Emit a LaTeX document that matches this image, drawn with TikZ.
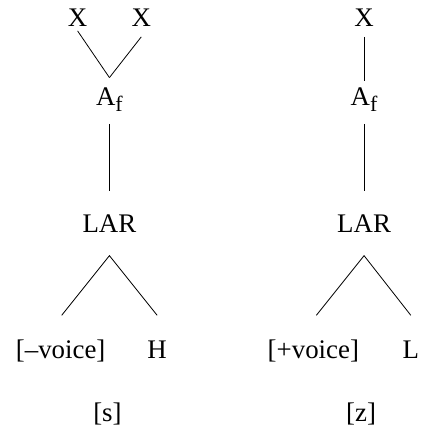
\documentclass[tikz,border=0pt]{standalone}
\usepackage{fontspec}
\setmainfont{Liberation Serif}
\usepackage{tikz}
\usetikzlibrary{positioning,calc}

\newcommand{\featsub}[1]{\raisebox{-0.24em}{\fontsize{11}{12}\selectfont #1}}

\begin{document}
\begin{tikzpicture}[
					x = 0.5pt, y = -0.5pt,
					every node/.style = {font = \fontsize{13.5}{16}\selectfont, anchor = base}
					]

					\fill[white] (0,0) rectangle (425,432);

					% [s]
					\node (xa) at (78,27) {X};
					\node (xb) at (142,27) {X};
					\node (afs) at (110,106) {A\featsub{f}};
					\node (lars) at (110,234) {LAR};
					\node (minus) at (61,360) {[--voice]};
					\node (hi) at (158,360) {H};
					\node (segs) at (108,424) {[s]};

					\coordinate (vs) at (110,78);
					\coordinate (tops) at (110,257);
					\coordinate (lefts) at (62,317);
					\coordinate (rights) at (158,317);

					\draw (xa.south) ++(0,-3) -- (vs);
					\draw (vs) -- ([yshift=-1.5pt]xb.south);
					\draw (afs.south) ++(0,5) -- ([yshift=8.5pt]lars.north);
					\draw (lefts) -- (tops) -- (rights);

					% [z]
					\node (xc) at (366,27) {X};
					\node (afz) at (366,106) {A\featsub{f}};
					\node (larz) at (366,234) {LAR};
					\node (plus) at (315,360) {[+voice]};
					\node (lo) at (413,360) {L};
					\node (segz) at (363,424) {[z]};

					\coordinate (topz) at (366,257);
					\coordinate (leftz) at (318,317);
					\coordinate (rightz) at (413,317);

					\draw ([yshift=-1.5pt]xc.south) -- (afz.north);
					\draw (afz.south) ++(0,5) -- ([yshift=8.5pt]larz.north);
					\draw (leftz) -- (topz) -- (rightz);

				\end{tikzpicture}
\end{document}
